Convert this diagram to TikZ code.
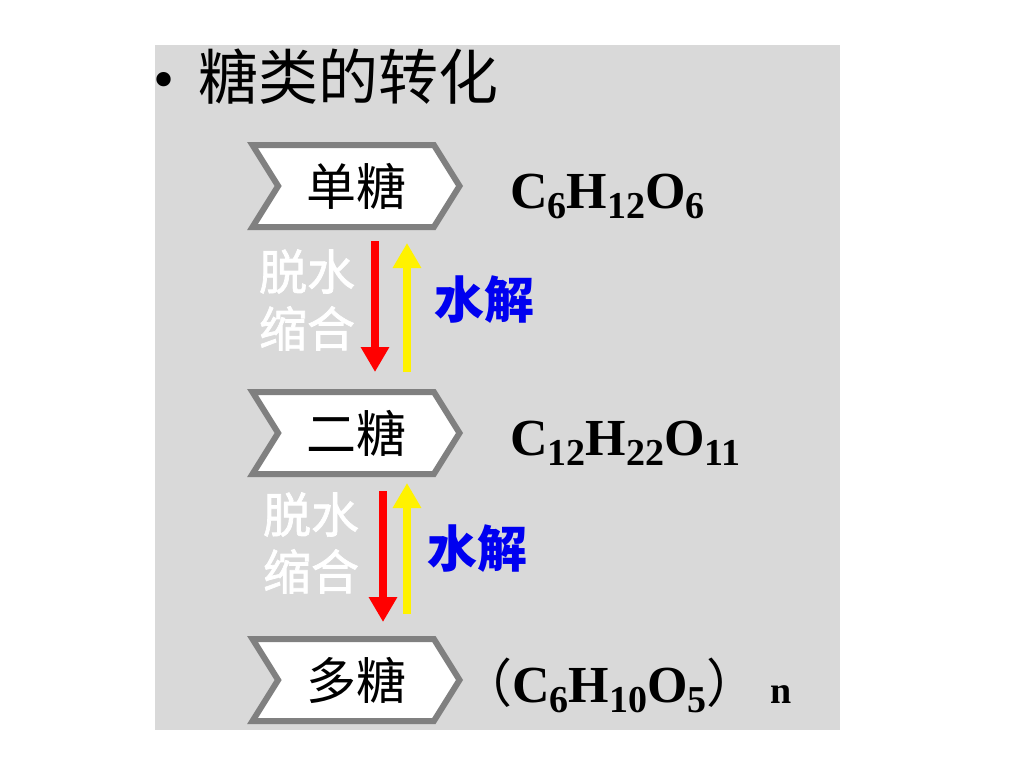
\documentclass[tikz,border=0pt]{standalone}
\usepackage{fontspec}
\setmainfont{Liberation Serif}
\newfontfamily\cjk{Noto Sans CJK SC}
\newfontfamily\cjkmid[FakeBold=1.5]{Noto Sans CJK SC}
\usetikzlibrary{shapes.symbols, arrows.meta, positioning}
\definecolor{slidegray}{RGB}{217, 217, 217}
\definecolor{boxrim}{RGB}{128, 128, 128}
\definecolor{hydroblue}{RGB}{0, 0, 240}
\newcommand{\subidx}[1]{\raisebox{-10pt}{\fontsize{38}{38}\selectfont #1}}
\tikzset{
  sugarbox/.style={signal, signal from=west, signal to=east, signal pointer angle=116,
                   draw=boxrim, line width=6pt, fill=white, minimum width=207pt,
                   minimum height=82pt, inner sep=0pt, font=\cjk\fontsize{50}{50}\selectfont},
  formula/.style={anchor=base west, inner sep=0pt, font=\bfseries\fontsize{52}{52}\selectfont},
  condarrow/.style={-{Triangle[width=27pt, length=25pt]}, line width=8pt, draw=red},
  hydarrow/.style={-{Triangle[width=27pt, length=25pt]}, line width=8pt, draw=yellow},
  condlabel/.style={text=white, align=center, inner sep=0pt,
                    font=\cjkmid\fontsize{48}{57}\selectfont},
  hydlabel/.style={text=hydroblue, inner sep=0pt, font=\cjk\bfseries\fontsize{50}{50}\selectfont},
}
\begin{document}
\begin{tikzpicture}[x=1pt, y=-1pt]
  \useasboundingbox (0,0) rectangle (1024,768);
  \fill[slidegray] (155,45) rectangle (840,730);

  \node[anchor=west, inner sep=0pt, font=\fontsize{60}{60}\selectfont] (title) at (153,77)
       {\textbullet\hspace{24pt}{\cjk 糖类的转化}};

  \node[sugarbox] (mono) at (356,186) {单糖};
  \node[sugarbox] (di)   at (356,433) {二糖};
  \node[sugarbox] (poly) at (356,680) {多糖};

  \node[formula] (fmono) at (510,208) {C\subidx{6}H\subidx{12}O\subidx{6}};
  \node[formula] (fdi)   at (510,455) {C\subidx{12}H\subidx{22}O\subidx{11}};
  \node[formula] (fpoly) at (460,702) {{\cjk\mdseries （}C\subidx{6}H\subidx{10}O\subidx{5}{\cjk\mdseries ）}};
  \node[formula, font=\bfseries\fontsize{38}{38}\selectfont] (nidx) at (770,703) {n};

  % mono <-> di
  \draw[condarrow, shorten <=11pt, shorten >=17pt] ([xshift=19pt]mono.south) -- ([xshift=19pt]di.north);
  \draw[hydarrow, shorten <=17pt, shorten >=13pt] ([xshift=51pt]di.north) -- ([xshift=51pt]mono.south);
  \node[condlabel] (cond1) at (307,300) {脱水\\缩合};
  \node[hydlabel] (hyd1) at (484,300) {水解};

  % di <-> poly
  \draw[condarrow, shorten <=14pt, shorten >=14pt] ([xshift=27pt]di.south) -- ([xshift=27pt]poly.north);
  \draw[hydarrow, shorten <=22pt, shorten >=6pt] ([xshift=51pt]poly.north) -- ([xshift=51pt]di.south);
  \node[condlabel] (cond2) at (311,543) {脱水\\缩合};
  \node[hydlabel] (hyd2) at (477,549) {水解};
\end{tikzpicture}
\end{document}
